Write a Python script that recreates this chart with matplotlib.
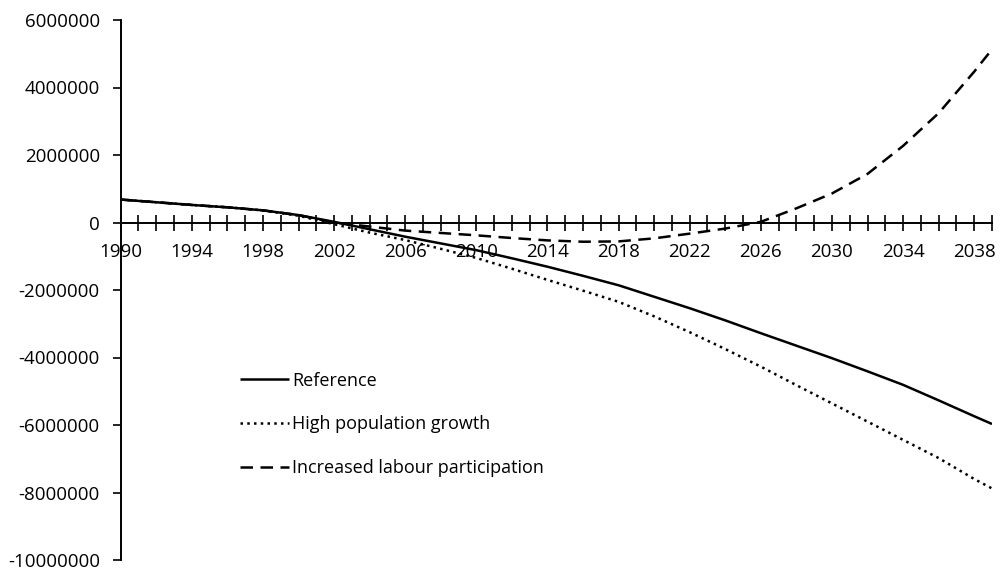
import matplotlib
matplotlib.use("Agg")
import matplotlib.pyplot as plt
from matplotlib.ticker import FixedLocator, MultipleLocator, FuncFormatter

plt.rcParams['font.family'] = ['Open Sans', 'DejaVu Sans']

# Labour-force balance projections, 1990-2039
years = [1990, 1992, 1994, 1996, 1998, 2000, 2002, 2004, 2006, 2008, 2010,
         2012, 2014, 2016, 2018, 2020, 2022, 2024, 2026, 2028, 2030, 2032,
         2034, 2036, 2038, 2039]

reference = [680000, 600000, 520000, 450000, 360000, 220000, 20000, -200000,
             -420000, -620000, -820000, -1060000, -1310000, -1580000,
             -1860000, -2200000, -2540000, -2900000, -3280000, -3650000,
             -4020000, -4410000, -4810000, -5270000, -5740000, -5970000]

high_population = [680000, 600000, 520000, 450000, 360000, 200000, -50000,
                   -300000, -520000, -780000, -1050000, -1370000, -1700000,
                   -2020000, -2350000, -2780000, -3250000, -3750000,
                   -4270000, -4820000, -5360000, -5900000, -6440000,
                   -6980000, -7600000, -7880000]

labour_participation = [680000, 600000, 520000, 450000, 360000, 220000, 0,
                        -120000, -240000, -310000, -380000, -460000,
                        -530000, -570000, -560000, -470000, -330000,
                        -180000, 20000, 420000, 860000, 1440000, 2270000,
                        3240000, 4470000, 5130000]

year_labels = list(range(1990, 2039, 4))

series_labels = ["Reference", "High population growth",
                 "Increased labour participation"]

fig = plt.figure(figsize=(10, 5.73), dpi=100)
ax = fig.add_axes([0.1207, 1 - 560 / 573, 0.992 - 0.1207, (560 - 20) / 573])

lw = 1.8
ax.plot(years, reference, color="black", lw=lw, solid_capstyle="butt",
        label=series_labels[0])
ax.plot(years, high_population, color="black", lw=lw,
        linestyle=(0, (1.0, 1.7)), label=series_labels[1])
ax.plot(years, labour_participation, color="black", lw=lw,
        linestyle=(0, (5.0, 3.0)), label=series_labels[2])

ax.set_xlim(1990, 2039)
ax.set_ylim(-10000000, 6000000)

# Axes: value axis on the left, year axis running through zero
for side in ("top", "right"):
    ax.spines[side].set_visible(False)
ax.spines["bottom"].set_position(("data", 0))
ax.spines["left"].set_linewidth(1.4)
ax.spines["bottom"].set_linewidth(1.4)

ax.xaxis.set_major_locator(FixedLocator(year_labels))
ax.xaxis.set_minor_locator(MultipleLocator(1))
ax.xaxis.set_major_formatter(FuncFormatter(lambda v, p: f"{int(round(v))}"))
ax.tick_params(axis="x", which="both", direction="inout", length=11,
               width=1.2, pad=9, labelsize=13.5)
ax.yaxis.set_major_locator(MultipleLocator(2000000))
ax.yaxis.set_major_formatter(FuncFormatter(lambda v, p: f"{int(round(v))}"))
ax.tick_params(axis="y", which="major", direction="out", length=6,
               width=1.2, pad=9, labelsize=13.5)

leg = ax.legend(loc="upper left", bbox_to_anchor=(0.129, 0.362),
                frameon=False, fontsize=13, handlelength=2.7,
                handletextpad=0.15, labelspacing=1.42, borderaxespad=0)

fig.savefig("out.png", dpi=100, facecolor="white")
